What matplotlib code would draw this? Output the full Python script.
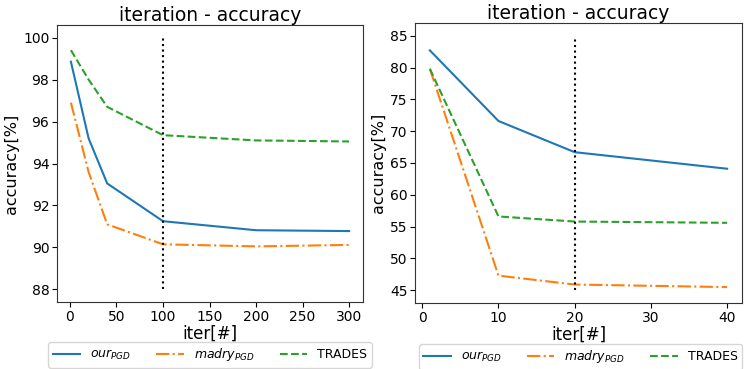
import matplotlib
matplotlib.use('Agg')
import matplotlib.pyplot as plt
from matplotlib.ticker import MultipleLocator

# left panel: iterations 1..300
iters_a = [1, 20, 40, 100, 200, 300]
our_a = [98.85, 95.2, 93.05, 91.25, 90.82, 90.78]
madry_a = [96.9, 93.6, 91.1, 90.15, 90.05, 90.12]
trades_a = [99.4, 98.0, 96.7, 95.35, 95.1, 95.05]

# right panel: iterations 1..40
iters_b = [1, 10, 20, 40]
our_b = [82.7, 71.6, 66.7, 64.1]
madry_b = [79.8, 47.3, 45.9, 45.5]
trades_b = [79.8, 56.6, 55.8, 55.6]

labels = [r'$our_{PGD}$', r'$madry_{PGD}$', 'TRADES']
styles = ['-', '-.', '--']
colors = ['C0', 'C1', 'C2']

W, H = 746, 369
fig = plt.figure(figsize=(W / 100, H / 100), dpi=100)


def px_axes(l, t, r, b):
    return fig.add_axes([l / W, 1 - b / H, (r - l) / W, (b - t) / H])


ax1 = px_axes(57, 25, 363, 302)
ax2 = px_axes(415, 23, 742, 303)

panels = [
    (ax1, iters_a, [our_a, madry_a, trades_a], 100, (88, 100), 50),
    (ax2, iters_b, [our_b, madry_b, trades_b], 20, (45, 85), 10),
]

for ax, xs, series, vx, (y0, y1), xstep in panels:
    for ys, lab, ls, c in zip(series, labels, styles, colors):
        ax.plot(xs, ys, linestyle=ls, color=c, label=lab, lw=1.5)
    ax.vlines(vx, y0, y1, colors='k', linestyles=':', lw=1.5)
    ax.set_title('iteration - accuracy', fontsize=13.5, pad=3)
    ax.set_xlabel('iter[#]', fontsize=12, labelpad=1)
    ax.set_ylabel('accuracy[%]', fontsize=11.5, labelpad=3)
    ax.tick_params(labelsize=10, pad=2)
    ax.xaxis.set_major_locator(MultipleLocator(xstep))
    for s in ax.spines.values():
        s.set_color('#333333')

leg_kw = dict(ncol=3, fontsize=9, borderaxespad=0, bbox_transform=fig.transFigure,
              handlelength=2.2, handletextpad=0.8, columnspacing=2.0, borderpad=0.35)
ax1.legend(loc='upper center', bbox_to_anchor=(210 / W, 1 - 342 / H), **leg_kw)
ax2.legend(loc='upper left', bbox_to_anchor=(419 / W, 1 - 344 / H), **leg_kw)

fig.savefig('out.png', dpi=100)
